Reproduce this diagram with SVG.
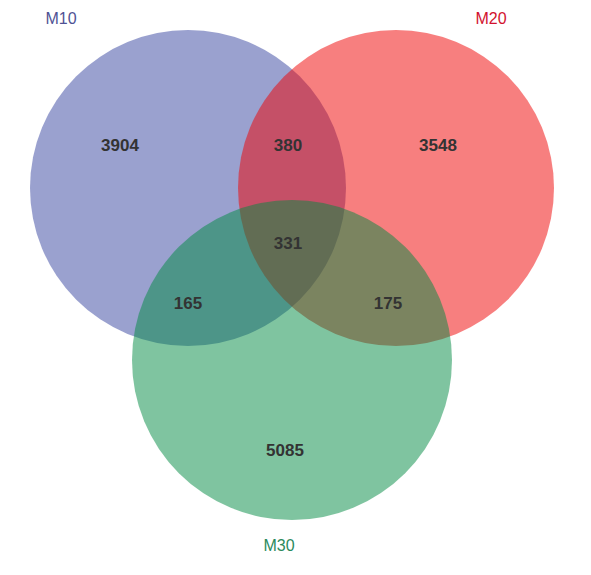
<svg xmlns="http://www.w3.org/2000/svg" width="591" height="575" viewBox="0 0 591 575">
<style>
.set{fill-opacity:0.5;stroke:none}
.num{font-family:"Liberation Sans",Arial,sans-serif;font-size:17px;font-weight:bold;fill:#333;text-anchor:middle}
.lab{font-family:"Liberation Sans",Arial,sans-serif;font-size:16px;text-anchor:middle}
</style>
<rect width="591" height="575" fill="#fff"/>
<g id="M10"><circle class="set" cx="188" cy="188" r="158" fill="#3644a0"/><text class="lab" x="61" y="24" fill="#4f5294">M10</text></g>
<g id="M20"><circle class="set" cx="396" cy="188" r="158" fill="#ef0000"/><text class="lab" x="491" y="24" fill="#d2122e">M20</text></g>
<g id="M30"><circle class="set" cx="292" cy="360" r="160" fill="#008941"/><text class="lab" x="279" y="551" fill="#2b8a5c">M30</text></g>
<g id="counts">
<text class="num" x="120" y="151">3904</text>
<text class="num" x="288" y="151">380</text>
<text class="num" x="438" y="151">3548</text>
<text class="num" x="288" y="249">331</text>
<text class="num" x="188" y="309">165</text>
<text class="num" x="388" y="309">175</text>
<text class="num" x="285" y="456">5085</text>
</g>
<g id="connectors"/>
</svg>
